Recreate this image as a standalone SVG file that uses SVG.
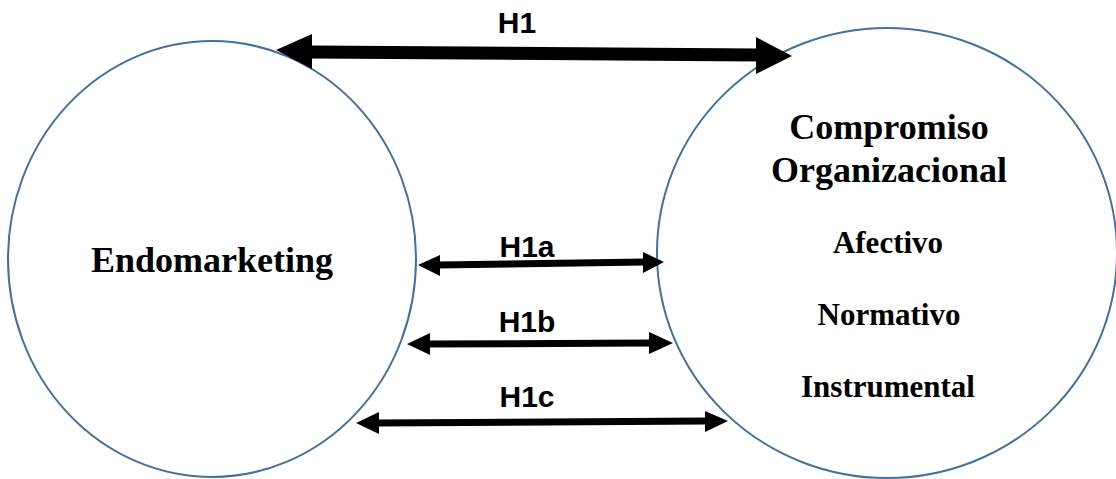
<svg xmlns="http://www.w3.org/2000/svg" width="1116" height="479" viewBox="0 0 1116 479">
  <style>
    .node { fill: #ffffff; stroke: #41719c; stroke-width: 2; }
    .title { font-family: "Liberation Serif", "Times New Roman", serif; font-weight: bold; fill: #000; text-anchor: middle; }
    .dim { font-family: "Liberation Serif", "Times New Roman", serif; font-weight: bold; fill: #000; text-anchor: middle; font-size: 31px; }
    .lbl { font-family: "Liberation Sans", Arial, sans-serif; font-weight: bold; fill: #000; text-anchor: middle; font-size: 30px; }
    .shaft { stroke: #000; fill: none; }
    .head { fill: #000; }
  </style>
  <rect width="1116" height="479" fill="#ffffff"/>

  <g id="endomarketing">
    <ellipse class="node" cx="212" cy="259" rx="204" ry="218"/>
    <text class="title" x="212" y="272" font-size="36">Endomarketing</text>
  </g>

  <g id="compromiso">
    <ellipse class="node" cx="887" cy="253" rx="230" ry="225"/>
    <text class="title" x="889" y="139" font-size="36">Compromiso</text>
    <text class="title" x="889" y="182" font-size="36">Organizacional</text>
    <text class="dim" x="888" y="253">Afectivo</text>
    <text class="dim" x="889" y="325">Normativo</text>
    <text class="dim" x="888" y="397">Instrumental</text>
  </g>

  <g id="connectors">
    <!-- H1 -->
    <line class="shaft" x1="310" y1="52" x2="758" y2="55" stroke-width="13"/>
    <polygon class="head" points="276,50 312,34 312,69"/>
    <polygon class="head" points="792,56 756,37 756,74"/>
    <text class="lbl" x="517" y="33" font-size="28">H1</text>
    <!-- H1a -->
    <line class="shaft" x1="438" y1="265" x2="645" y2="262" stroke-width="7"/>
    <polygon class="head" points="418,265 440,255 440,276"/>
    <polygon class="head" points="664,262 643,252 643,273"/>
    <text class="lbl" x="527" y="257">H1a</text>
    <!-- H1b -->
    <line class="shaft" x1="428" y1="344" x2="651" y2="343" stroke-width="7"/>
    <polygon class="head" points="407,344 430,333 430,355"/>
    <polygon class="head" points="673,343 649,332 649,354"/>
    <text class="lbl" x="527" y="332">H1b</text>
    <!-- H1c -->
    <line class="shaft" x1="377" y1="423" x2="707" y2="421" stroke-width="7"/>
    <polygon class="head" points="356,423 379,412 379,434"/>
    <polygon class="head" points="728,421 705,411 705,432"/>
    <text class="lbl" x="527" y="407">H1c</text>
  </g>
</svg>
